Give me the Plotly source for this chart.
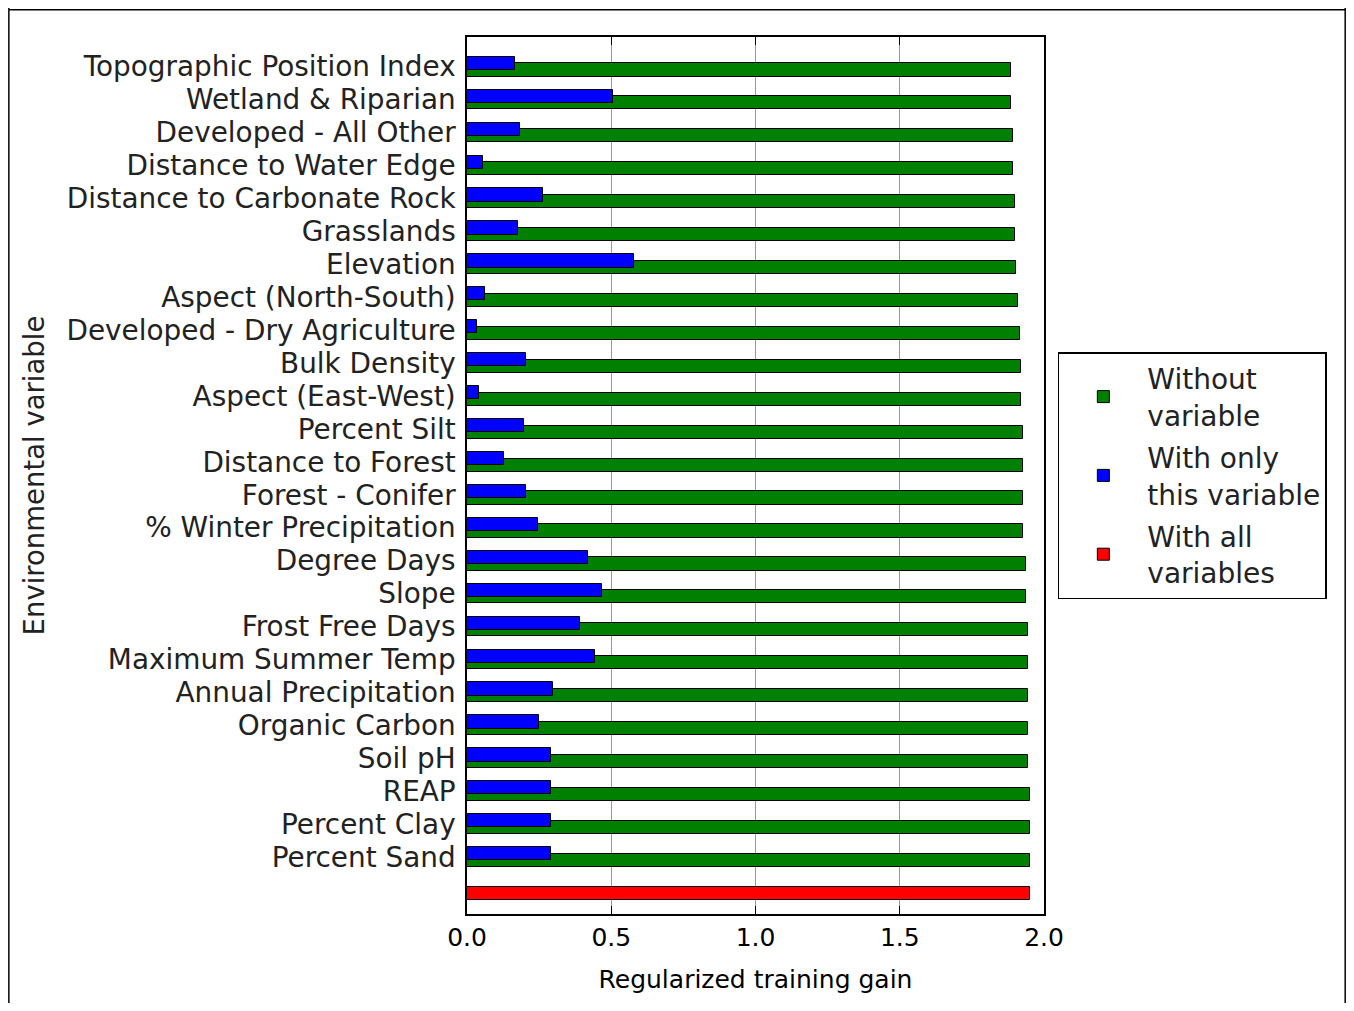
import plotly.graph_objects as go

categories = [
    "Topographic Position Index", "Wetland & Riparian", "Developed - All Other",
    "Distance to Water Edge", "Distance to Carbonate Rock", "Grasslands", "Elevation",
    "Aspect (North-South)", "Developed - Dry Agriculture", "Bulk Density",
    "Aspect (East-West)", "Percent Silt", "Distance to Forest", "Forest - Conifer",
    "% Winter Precipitation", "Degree Days", "Slope", "Frost Free Days",
    "Maximum Summer Temp", "Annual Precipitation", "Organic Carbon", "Soil pH",
    "REAP", "Percent Clay", "Percent Sand",
]
without_variable = [1.886, 1.886, 1.893, 1.893, 1.898, 1.898, 1.903, 1.910, 1.916, 1.921,
                    1.921, 1.927, 1.927, 1.927, 1.927, 1.939, 1.939, 1.946, 1.946, 1.946,
                    1.946, 1.946, 1.952, 1.952, 1.952]
only_variable = [0.165, 0.506, 0.182, 0.054, 0.263, 0.176, 0.578, 0.064, 0.035, 0.205,
                 0.042, 0.199, 0.129, 0.205, 0.247, 0.420, 0.467, 0.391, 0.444, 0.298,
                 0.251, 0.292, 0.292, 0.292, 0.292]
all_variables = [1.952]
x_ticks = [0.0, 0.5, 1.0, 1.5, 2.0]

n = len(categories)
pos = [n - i for i in range(n)]          # top category highest
tick_pos = [p + 0.1 for p in pos]

FONT = "DejaVu Sans"
fig = go.Figure()
fig.add_trace(go.Bar(
    x=without_variable, y=pos, orientation="h", width=0.4, offset=-0.2,
    marker=dict(color="#008000", line=dict(color="black", width=1)),
    name="Without<br>variable", legendgroup="a",
))
fig.add_trace(go.Bar(
    x=only_variable, y=pos, orientation="h", width=0.4, offset=0.0,
    marker=dict(color="#0000ff", line=dict(color="black", width=1)),
    name="With only<br>this variable", legendgroup="b",
))
fig.add_trace(go.Bar(
    x=all_variables, y=[0], orientation="h", width=0.4, offset=-0.2,
    marker=dict(color="#ff0000", line=dict(color="black", width=1)),
    name="With all<br>variables", legendgroup="c",
))

fig.update_layout(
    width=1346, height=995,
    margin=dict(l=458.5, r=310, t=28.7, b=89),
    paper_bgcolor="white", plot_bgcolor="white",
    barmode="overlay", bargap=0,
    font=dict(family=FONT, color="black", size=28),
    showlegend=True,
    legend=dict(
        x=1.024, y=0.6406, xanchor="left", yanchor="top",
        bordercolor="black", borderwidth=1.5, bgcolor="white",
        font=dict(family=FONT, size=28, color="#222"),
        traceorder="grouped", itemwidth=78, tracegroupgap=3,
    ),
    xaxis=dict(
        range=[0, 2.0], tickvals=x_ticks, ticktext=[f"{v:.1f}" for v in x_ticks],
        showgrid=True, gridcolor="#999", gridwidth=1,
        showline=True, linecolor="black", linewidth=1.5, mirror="ticks",
        ticks="inside", ticklen=8, tickcolor="black",
        tickfont=dict(family=FONT, size=25),
        title=dict(text="Regularized training gain",
                   font=dict(family=FONT, size=25),
                   standoff=20),
        zeroline=False,
    ),
    yaxis=dict(
        range=[-0.63, 26.0], tickvals=tick_pos, ticktext=categories,
        showgrid=False, showline=True, linecolor="black", linewidth=1.5, mirror=True,
        ticks="", tickfont=dict(family=FONT, size=27.9, color="#222"),
        ticklabelstandoff=4,
        title=dict(text="Environmental variable", font=dict(family=FONT, size=27.5, color="#222"),
                   standoff=14),
        zeroline=False,
    ),
)

# outer figure frame
fig.add_shape(type="line", xref="paper", yref="paper", x0=-0.794, x1=-0.794, y0=1.035, y1=-0.12,
              line=dict(color="black", width=1.5))
fig.add_shape(type="line", xref="paper", yref="paper", x0=-0.794, x1=1.522, y0=1.031, y1=1.031,
              line=dict(color="black", width=1.5))
fig.add_shape(type="line", xref="paper", yref="paper", x0=1.522, x1=1.522, y0=1.035, y1=-0.12,
              line=dict(color="black", width=1.5))

fig.write_html("out.html")
